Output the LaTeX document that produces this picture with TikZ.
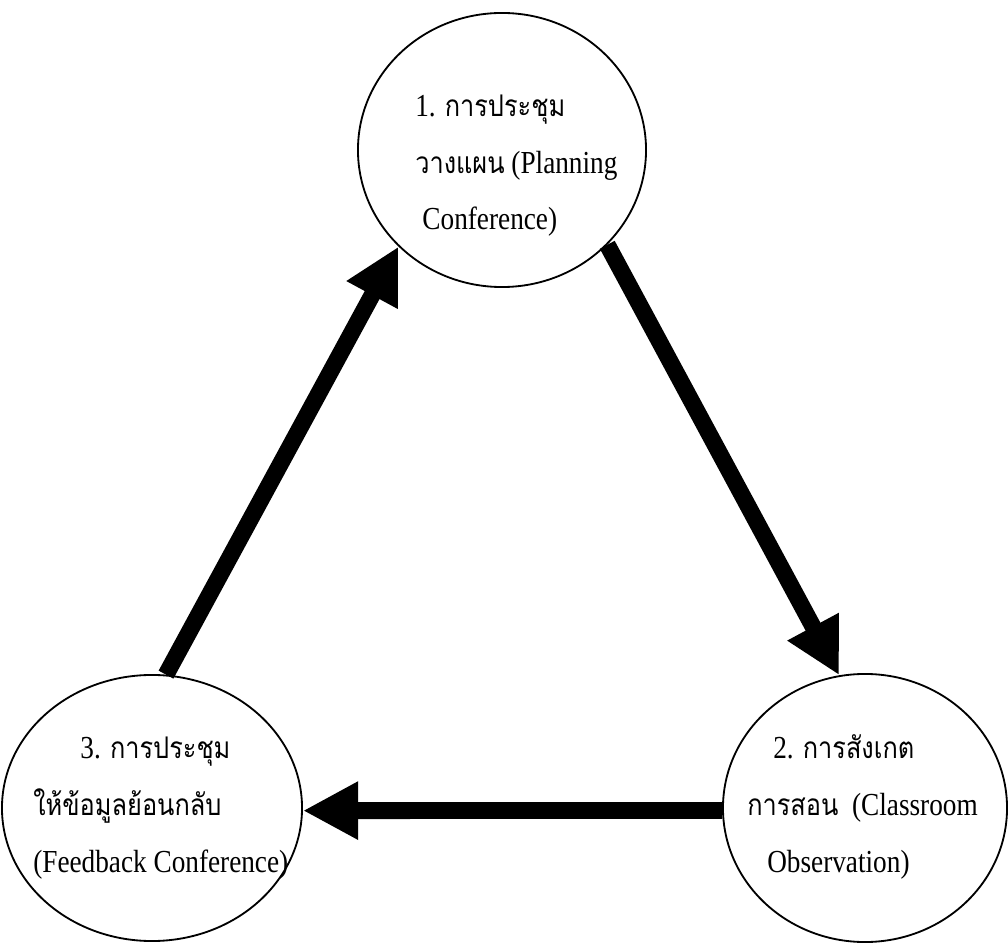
\documentclass[tikz,border=0pt]{standalone}
\usepackage{fontspec}
\setmainfont{Liberation Serif}[FakeStretch=0.85]
\newfontfamily\thai[Script=Thai,Scale=0.93,FakeStretch=0.85]{Loma}
\usetikzlibrary{arrows.meta}
\usetikzlibrary{positioning,shapes}

\begin{document}
\begin{tikzpicture}[x=0.025cm,y=-0.025cm,
  stage/.style={ellipse,draw,line width=1.3pt,inner sep=0pt},
  fat/.style={line width=0.42cm,-{Triangle[length=1.38cm,width=1.36cm]}},
  words/.style={align=left,anchor=base west,inner sep=0pt,
    font=\fontsize{22.8}{40.5}\selectfont}]
  \useasboundingbox (0,0) rectangle (1008,944);
  \node[stage,minimum width=7.2cm,minimum height=6.85cm] (P) at (502,150) {};
  \node[stage,minimum width=7.1cm,minimum height=6.7cm] (O) at (865,808) {};
  \node[stage,minimum width=7.5cm,minimum height=6.65cm] (F) at (152,808) {};
  \node[words] (Ptext) at (415,230)
    {1. {\thai การประชุม}\\ {\thai วางแผน} (Planning\\ \hspace*{0.18cm}Conference)};
  \node[words] (Otext) at (747,872)
    {\hspace*{0.65cm}2. {\thai การสังเกต}\\ {\thai การสอน}~ (Classroom\\ \hspace*{0.5cm}Observation)};
  \node[words] (Ftext) at (33,872)
    {\hspace*{1.18cm}3. {\thai การประชุม}\\ {\thai ให้ข้อมูลย้อนกลับ}\\ (Feedback Conference)};
  \draw[fat] (F.84) -- (P.223);
  \draw[fat] (P.318) -- (O.101);
  \draw[fat] (O.181) -- (F.-1);
\end{tikzpicture}
\end{document}
